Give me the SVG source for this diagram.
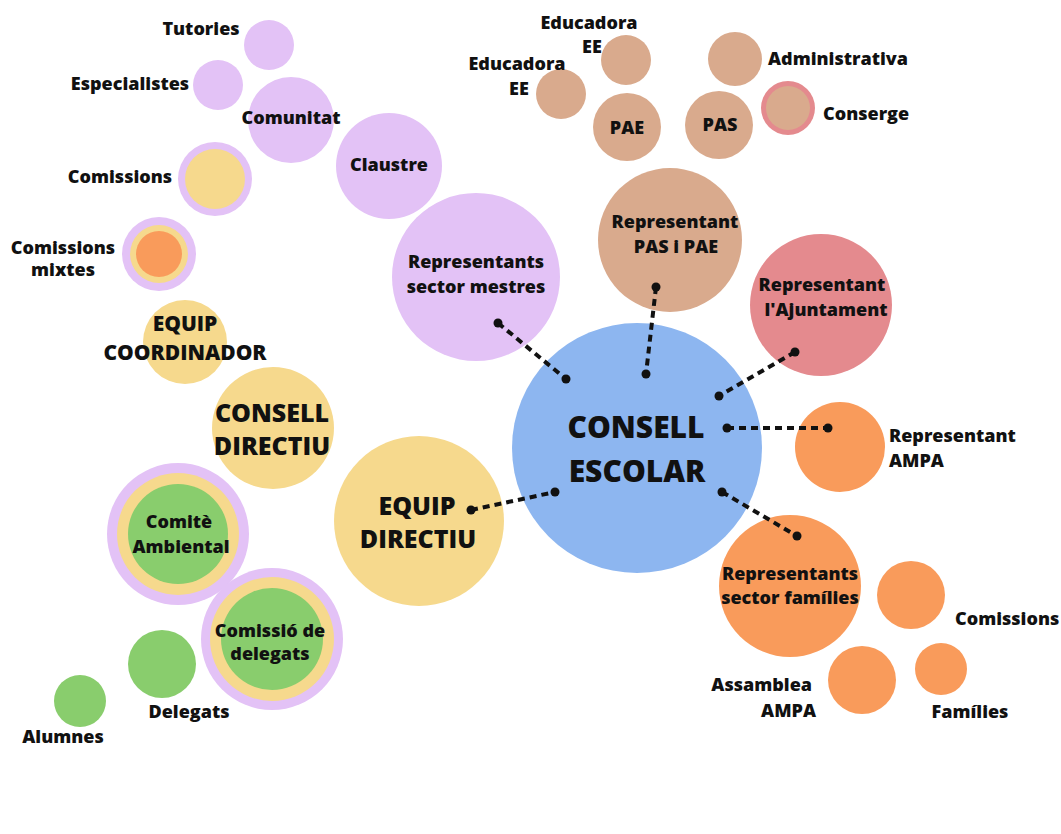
<svg xmlns="http://www.w3.org/2000/svg" width="1061" height="834" viewBox="0 0 1061 834">
<style>
.pu{fill:#e3c2f6}.ye{fill:#f6d98d}.br{fill:#d9aa8d}.pk{fill:#e48a8e}.bl{fill:#8db6f0}.or{fill:#f99b5b}.gr{fill:#89cd6d}
text{font-family:"Open Sans","Liberation Sans",sans-serif;font-weight:800;fill:#111;font-size:18px}
.c{text-anchor:middle}.r{text-anchor:end}
.m{font-size:21px}.l{font-size:25px}.xl{font-size:30px}
.dl{stroke:#111;stroke-width:4;stroke-dasharray:7 5;fill:none}
.dot{fill:#111}
</style>
<rect width="1061" height="834" fill="#fff"/>
<g id="n-tutories"><circle class="pu" cx="269" cy="45" r="25"/><text class="c" x="201" y="35">Tutories</text></g>
<g id="n-especialistes"><circle class="pu" cx="218" cy="85" r="25"/><text class="c" x="130" y="90">Especialistes</text></g>
<g id="n-comunitat"><circle class="pu" cx="291" cy="120" r="43"/><text class="c" x="291" y="124">Comunitat</text></g>
<g id="n-claustre"><circle class="pu" cx="389" cy="166" r="53"/><text class="c" x="389" y="171">Claustre</text></g>
<g id="n-mestres"><circle class="pu" cx="476" cy="277" r="84"/><text class="c" x="476" y="268">Representants</text><text class="c" x="476" y="293">sector mestres</text></g>
<g id="n-comissions-l"><circle class="pu" cx="215" cy="179" r="37"/><circle class="ye" cx="215" cy="179" r="30"/><text class="c" x="120" y="183">Comissions</text></g>
<g id="n-comissions-mixtes"><circle class="pu" cx="159" cy="254" r="37"/><circle class="ye" cx="159" cy="254" r="29"/><circle class="or" cx="159" cy="254" r="23"/><text class="c" x="63" y="254">Comissions</text><text class="c" x="63" y="276">mixtes</text></g>
<g id="n-equip-coord"><circle class="ye" cx="185" cy="342" r="42"/><text class="c m" x="185" y="331">EQUIP</text><text class="c m" x="185" y="360">COORDINADOR</text></g>
<g id="n-consell-directiu"><circle class="ye" cx="273" cy="428" r="61"/><text class="c l" x="272" y="422">CONSELL</text><text class="c l" x="272" y="455">DIRECTIU</text></g>
<g id="n-comite"><circle class="pu" cx="178" cy="534" r="71"/><circle class="ye" cx="178" cy="534" r="61"/><circle class="gr" cx="178" cy="534" r="50"/><text class="c" x="179" y="528">Comitè</text><text class="c" x="181" y="553">Ambiental</text></g>
<g id="n-comissio-delegats"><circle class="pu" cx="272" cy="639" r="71"/><circle class="ye" cx="272" cy="639" r="62"/><circle class="gr" cx="272" cy="639" r="51"/><text class="c" x="270" y="637">Comissió de</text><text class="c" x="270" y="660">delegats</text></g>
<g id="n-delegats"><circle class="gr" cx="162" cy="664" r="34"/><text class="c" x="189" y="718">Delegats</text></g>
<g id="n-alumnes"><circle class="gr" cx="80" cy="701" r="26"/><text class="c" x="63" y="743">Alumnes</text></g>
<g id="n-equip-directiu"><circle class="ye" cx="419" cy="521" r="85"/><text class="c l" x="417" y="515">EQUIP</text><text class="c l" x="418" y="548">DIRECTIU</text></g>
<g id="n-educadora1"><circle class="br" cx="626" cy="60" r="25"/><text class="c" x="589" y="29">Educadora</text><text class="c" x="592" y="53">EE</text></g>
<g id="n-educadora2"><circle class="br" cx="561" cy="94" r="25"/><text class="c" x="517" y="70">Educadora</text><text class="c" x="519" y="95">EE</text></g>
<g id="n-pae"><circle class="br" cx="627" cy="127" r="34"/><text class="c" x="627" y="134">PAE</text></g>
<g id="n-pas"><circle class="br" cx="719" cy="125" r="34"/><text class="c" x="720" y="131">PAS</text></g>
<g id="n-administrativa"><circle class="br" cx="735" cy="59" r="27"/><text x="768" y="65">Administrativa</text></g>
<g id="n-conserge"><circle class="pk" cx="788" cy="108" r="27"/><circle class="br" cx="788" cy="108" r="22"/><text x="823" y="120">Conserge</text></g>
<g id="n-pas-pae"><circle class="br" cx="670" cy="240" r="72"/><text class="c" x="675" y="228">Representant</text><text class="c" x="676" y="253">PAS i PAE</text></g>
<g id="n-ajuntament"><circle class="pk" cx="821" cy="305" r="71"/><text class="c" x="822" y="291">Representant</text><text class="c" x="826" y="316">l'Ajuntament</text></g>
<g id="n-ampa"><circle class="or" cx="840" cy="447" r="45"/><text x="889" y="442">Representant</text><text x="889" y="467">AMPA</text></g>
<g id="n-families-sector"><circle class="or" cx="790" cy="586" r="71"/><text class="c" x="790" y="580">Representants</text><text class="c" x="790" y="604">sector famílies</text></g>
<g id="n-comissions-r"><circle class="or" cx="911" cy="595" r="34"/><text x="955" y="625">Comissions</text></g>
<g id="n-assamblea"><circle class="or" cx="862" cy="680" r="34"/><text class="r" x="812" y="691">Assamblea</text><text class="r" x="816" y="717">AMPA</text></g>
<g id="n-families"><circle class="or" cx="941" cy="669" r="26"/><text class="c" x="970" y="718">Famílies</text></g>
<g id="n-consell-escolar"><circle class="bl" cx="637" cy="448" r="125"/><text class="c xl" x="636" y="438">CONSELL</text><text class="c xl" x="637" y="482">ESCOLAR</text></g>
<g id="connectors">
<line class="dl" x1="498" y1="323" x2="566" y2="379"/><circle class="dot" cx="498" cy="323" r="4.5"/><circle class="dot" cx="566" cy="379" r="4.5"/>
<line class="dl" x1="656" y1="287" x2="646" y2="374"/><circle class="dot" cx="656" cy="287" r="4.5"/><circle class="dot" cx="646" cy="374" r="4.5"/>
<line class="dl" x1="795" y1="352" x2="719" y2="396"/><circle class="dot" cx="795" cy="352" r="4.5"/><circle class="dot" cx="719" cy="396" r="4.5"/>
<line class="dl" x1="727" y1="428" x2="828" y2="428"/><circle class="dot" cx="727" cy="428" r="4.5"/><circle class="dot" cx="828" cy="428" r="4.5"/>
<line class="dl" x1="722" y1="492" x2="797" y2="536"/><circle class="dot" cx="722" cy="492" r="4.5"/><circle class="dot" cx="797" cy="536" r="4.5"/>
<line class="dl" x1="471" y1="510" x2="555" y2="492"/><circle class="dot" cx="471" cy="510" r="4.5"/><circle class="dot" cx="555" cy="492" r="4.5"/>
</g>
</svg>
